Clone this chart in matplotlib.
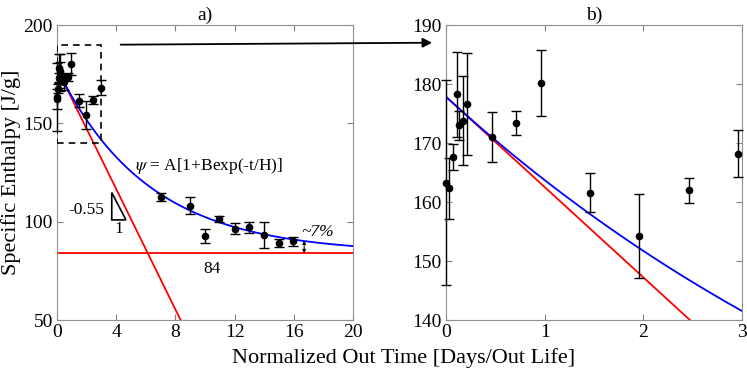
import numpy as np
import matplotlib
matplotlib.use('Agg')
import matplotlib.pyplot as plt
from matplotlib.patches import Rectangle, ConnectionPatch, Polygon

plt.rcParams['font.family'] = ['Liberation Serif', 'DejaVu Serif']
plt.rcParams['mathtext.fontset'] = 'stix'

# measured points (normalized out time, specific enthalpy, error)
t_data = [0.0, 0.03, 0.074, 0.108, 0.135, 0.175, 0.216, 0.463, 0.713, 0.966,
          1.462, 1.96, 2.46, 2.96,
          7.03, 8.99, 10.0, 10.97, 12.0, 13.0, 14.0, 14.98, 15.97]
h_data = [163.3, 162.3, 167.6, 178.3, 173.0, 173.8, 176.6, 171.0, 173.4, 180.1,
          161.6, 154.2, 162.0, 168.2,
          112.4, 108.0, 92.7, 101.4, 96.3, 97.1, 93.1, 89.3, 90.0]
h_err = [17.3, 5.2, 2.2, 7.2, 2.5, 7.5, 8.6, 4.3, 2.0, 5.6,
         3.3, 7.15, 2.1, 4.0,
         2.0, 4.3, 3.6, 1.5, 2.8, 2.8, 6.7, 2.0, 2.3]

# fit psi = A[1+B exp(-t/H)] and its initial tangent
A_fit = 84.0
B_fit = 1.117
H_fit = 6.13
h0 = A_fit * (1 + B_fit)
slope0 = -A_fit * B_fit / H_fit

t_fit = np.linspace(0, 20, 400)
psi_fit = A_fit * (1 + B_fit * np.exp(-t_fit / H_fit))
tangent = h0 + slope0 * t_fit

fig = plt.figure(figsize=(7.47, 3.76), dpi=100)
ax1 = fig.add_axes([0.0763, 0.1489, 0.3963, 0.7846])
ax2 = fig.add_axes([0.5971, 0.1489, 0.3963, 0.7846])

for ax, tmax in ((ax1, 20), (ax2, 3)):
    ax.plot(t_fit, tangent, color='#ff0000', lw=1.3, zorder=2)
    ax.plot(t_fit, psi_fit, color='#0000ff', lw=1.3, zorder=3)
    sel = [i for i, t in enumerate(t_data) if t <= tmax]
    ax.errorbar([t_data[i] for i in sel], [h_data[i] for i in sel],
                yerr=[h_err[i] for i in sel], fmt='o', color='black', ms=4.5,
                capsize=3.6, elinewidth=1, capthick=1, zorder=4, clip_on=False)
    ax.tick_params(direction='in', top=True, right=True, labelsize=14,
                   color='#808080', length=4, pad=3)
    for s in ax.spines.values():
        s.set_color('#909090')
        s.set_linewidth(0.8)

ax1.axhline(A_fit, color='#ff0000', lw=1.3, zorder=2)
ax1.set_xlim(0, 20)
ax1.set_ylim(50, 200)
ax1.set_xticks([0, 4, 8, 12, 16, 20])
ax1.set_yticks([50, 100, 150, 200])
ax1.set_ylabel('Specific Enthalpy [J/g]', fontsize=16, labelpad=2)
ax1.set_title('a)', fontsize=14, pad=4)

ax2.set_xlim(0, 3)
ax2.set_ylim(140, 190)
ax2.set_xticks([0, 1, 2, 3])
ax2.set_yticks([140, 150, 160, 170, 180, 190])
ax2.set_title('b)', fontsize=14, pad=4)

fig.text(0.54, 0.02, 'Normalized Out Time [Days/Out Life]', ha='center',
         va='bottom', fontsize=16)

# zoom box and arrow
ax1.add_patch(Rectangle((0, 140), 3, 50, fill=False, ls=(0, (4, 3)),
                        color='black', lw=1.2, zorder=5))
con = ConnectionPatch(xyA=(4.3, 190.0), coordsA=ax1.transData,
                      xyB=(-0.14, 187.0), coordsB=ax2.transData,
                      arrowstyle='-|>', mutation_scale=14, color='black', lw=1.3)
fig.add_artist(con)

# annotations
ax1.text(5.3, 128.5, r'$\psi$ = A[1+Bexp(-t/H)]', fontsize=12.5, va='center')
ax1.text(10.5, 76, '84', fontsize=12.5, ha='center', va='center')
ax1.add_patch(Polygon([(3.7, 114.8), (3.7, 100.9), (4.66, 100.9)], closed=True,
                      fill=False, ec='black', lw=1.2))
ax1.text(3.2, 106, '-0.55', fontsize=12.5, ha='right', va='center')
ax1.text(4.15, 96.5, '1', fontsize=12.5, ha='center', va='center')
ax1.text(16.5, 94.5, '~7%', fontsize=12.5, style='italic', va='center')
ax1.annotate('', xy=(16.7, A_fit), xytext=(16.7, 90.4),
             arrowprops=dict(arrowstyle='<|-|>', color='black', lw=0.7,
                             mutation_scale=5, shrinkA=0, shrinkB=0))

fig.savefig('out.png', dpi=100)
